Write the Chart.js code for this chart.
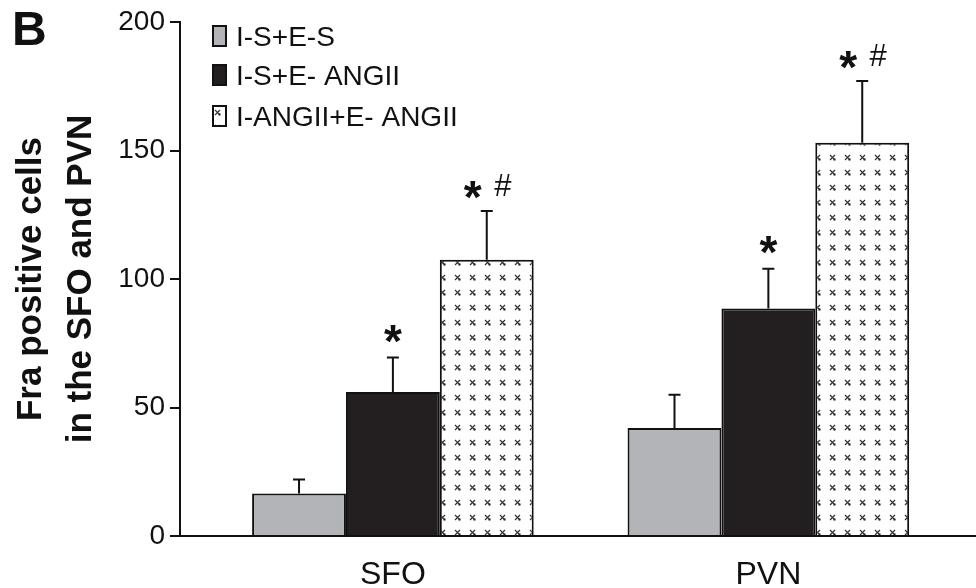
<!DOCTYPE html>
<html>
<head>
<meta charset="utf-8">
<script src="https://cdn.jsdelivr.net/npm/chart.js@4.4.0/dist/chart.umd.min.js"></script>
<style>
  html, body { margin: 0; padding: 0; background: #fff; }
  #wrap { width: 976px; height: 588px; }
</style>
</head>
<body>
<div id="wrap"><canvas id="myChart" width="976" height="588"></canvas></div>
<script>
// categories and groups
const categories = ['SFO', 'PVN'];
const groupNames = ['I-S+E-S', 'I-S+E- ANGII', 'I-ANGII+E- ANGII'];

// mean values (Fra positive cells)
const isEs = [16.5, 42];
const isEang = [56, 88.5];
const iangEang = [107.5, 153];

// SEM, drawn upward only
const isEsErr = [5.5, 13];
const isEangErr = [13.5, 15.5];
const iangEangErr = [19, 24];

// significance marks over each bar
const sigMarks = [
    ['', ''],
    ['*', '*'],
    ['*#', '*#']
];

const yTicks = [0, 50, 100, 150, 200];

const FONT = "'Liberation Sans', Arial, Helvetica, sans-serif";

// dotted "x" fill used for the third group
function makePattern() {
    const c = document.createElement('canvas');
    c.width = 15;
    c.height = 15;
    const g = c.getContext('2d');
    g.fillStyle = '#fff';
    g.fillRect(0, 0, 15, 15);
    g.strokeStyle = '#333';
    g.lineWidth = 1.2;
    g.beginPath();
    g.moveTo(5, 5); g.lineTo(10, 10);
    g.moveTo(10, 5); g.lineTo(5, 10);
    g.stroke();
    g.fillStyle = '#222';
    g.fillRect(8.5, 8.5, 2, 2);
    return g.createPattern(c, 'repeat');
}

document.addEventListener('DOMContentLoaded', function () {
    const ctx = document.getElementById('myChart').getContext('2d');
    const xPattern = makePattern();

    const fills = ['#b2b4b7', '#231f20', xPattern];
    const values = [isEs, isEang, iangEang];
    const errors = [isEsErr, isEangErr, iangEangErr];

    const datasets = groupNames.map(function (name, i) {
        return {
            label: name,
            data: values[i].map(function (v, j) { return { x: j + 1, y: v }; }),
            errors: errors[i],
            marks: sigMarks[i],
            backgroundColor: fills[i],
            borderColor: '#111',
            borderWidth: 2,
            categoryPercentage: 0.75,
            barPercentage: 1.0
        };
    });

    // error bars + significance marks
    const errorBars = {
        id: 'errorBars',
        afterDatasetsDraw(chart) {
            const c = chart.ctx;
            const yScale = chart.scales.y;
            chart.data.datasets.forEach(function (ds, i) {
                const meta = chart.getDatasetMeta(i);
                meta.data.forEach(function (bar, j) {
                    const top = yScale.getPixelForValue(ds.data[j].y + ds.errors[j]);
                    c.save();
                    c.strokeStyle = '#111';
                    c.lineWidth = 2;
                    c.beginPath();
                    c.moveTo(bar.x, bar.y);
                    c.lineTo(bar.x, top);
                    c.moveTo(bar.x - 6, top);
                    c.lineTo(bar.x + 6, top);
                    c.stroke();

                    const m = ds.marks[j];
                    c.fillStyle = '#111';
                    c.textAlign = 'center';
                    c.textBaseline = 'alphabetic';
                    if (m === '*') {
                        c.font = 'bold 46px ' + FONT;
                        c.fillText('*', bar.x, top - 27 + 0.57 * 46);
                    } else if (m === '*#') {
                        c.font = 'bold 46px ' + FONT;
                        c.fillText('*', bar.x - 14, top - 24 + 0.57 * 46);
                        c.font = '31px ' + FONT;
                        c.fillText('#', bar.x + 16, top - 26 + 0.36 * 31);
                    }
                    c.restore();
                });
            });
        }
    };

    // legend in the top-left of the plot, plus panel letter
    const sideText = {
        id: 'sideText',
        afterDraw(chart) {
            const c = chart.ctx;
            c.save();
            c.fillStyle = '#111';
            c.font = 'bold 48px ' + FONT;
            c.textAlign = 'left';
            c.textBaseline = 'alphabetic';
            c.fillText('B', 12, 45);

            const rows = [36, 75, 116];
            groupNames.forEach(function (name, i) {
                const y = rows[i];
                c.fillStyle = fills[i];
                c.fillRect(213, y - 10, 13, 20);
                c.strokeStyle = '#111';
                c.lineWidth = 2;
                c.strokeRect(213, y - 10, 13, 20);
                c.fillStyle = '#111';
                c.font = '28px ' + FONT;
                c.fillText(name, 236, y + 10);
            });
            c.restore();
        }
    };

    new Chart(ctx, {
        type: 'bar',
        data: { datasets: datasets },
        options: {
            responsive: false,
            animation: false,
            layout: { padding: { top: 22, right: 0, left: 0, bottom: 0 } },
            scales: {
                x: {
                    type: 'linear',
                    offset: false,
                    min: 0.433,
                    max: 2.553,
                    afterBuildTicks: function (axis) {
                        axis.ticks = categories.map(function (c, i) { return { value: i + 1 }; });
                    },
                    afterFit: function (axis) { axis.height = 52; },
                    ticks: {
                        color: '#111',
                        padding: 12,
                        font: { family: FONT, size: 32 },
                        callback: function (v) { return categories[v - 1]; }
                    },
                    grid: { display: false },
                    border: { color: '#111', width: 2 }
                },
                y: {
                    min: 0,
                    max: 200,
                    afterBuildTicks: function (axis) {
                        axis.ticks = yTicks.map(function (v) { return { value: v }; });
                    },
                    afterFit: function (axis) { axis.width = 180; },
                    ticks: {
                        color: '#111',
                        padding: 5,
                        font: { family: FONT, size: 28 }
                    },
                    grid: {
                        drawOnChartArea: false,
                        tickLength: 10,
                        color: '#111',
                        lineWidth: 2
                    },
                    border: { color: '#111', width: 2 },
                    title: {
                        display: true,
                        text: ['Fra positive cells', 'in the SFO and PVN'],
                        color: '#111',
                        padding: { top: 6, bottom: 0 },
                        font: { family: FONT, size: 35, weight: 'bold', lineHeight: 1.43 }
                    }
                }
            },
            plugins: {
                legend: { display: false },
                tooltip: { enabled: false }
            }
        },
        plugins: [errorBars, sideText]
    });
});
</script>
</body>
</html>
